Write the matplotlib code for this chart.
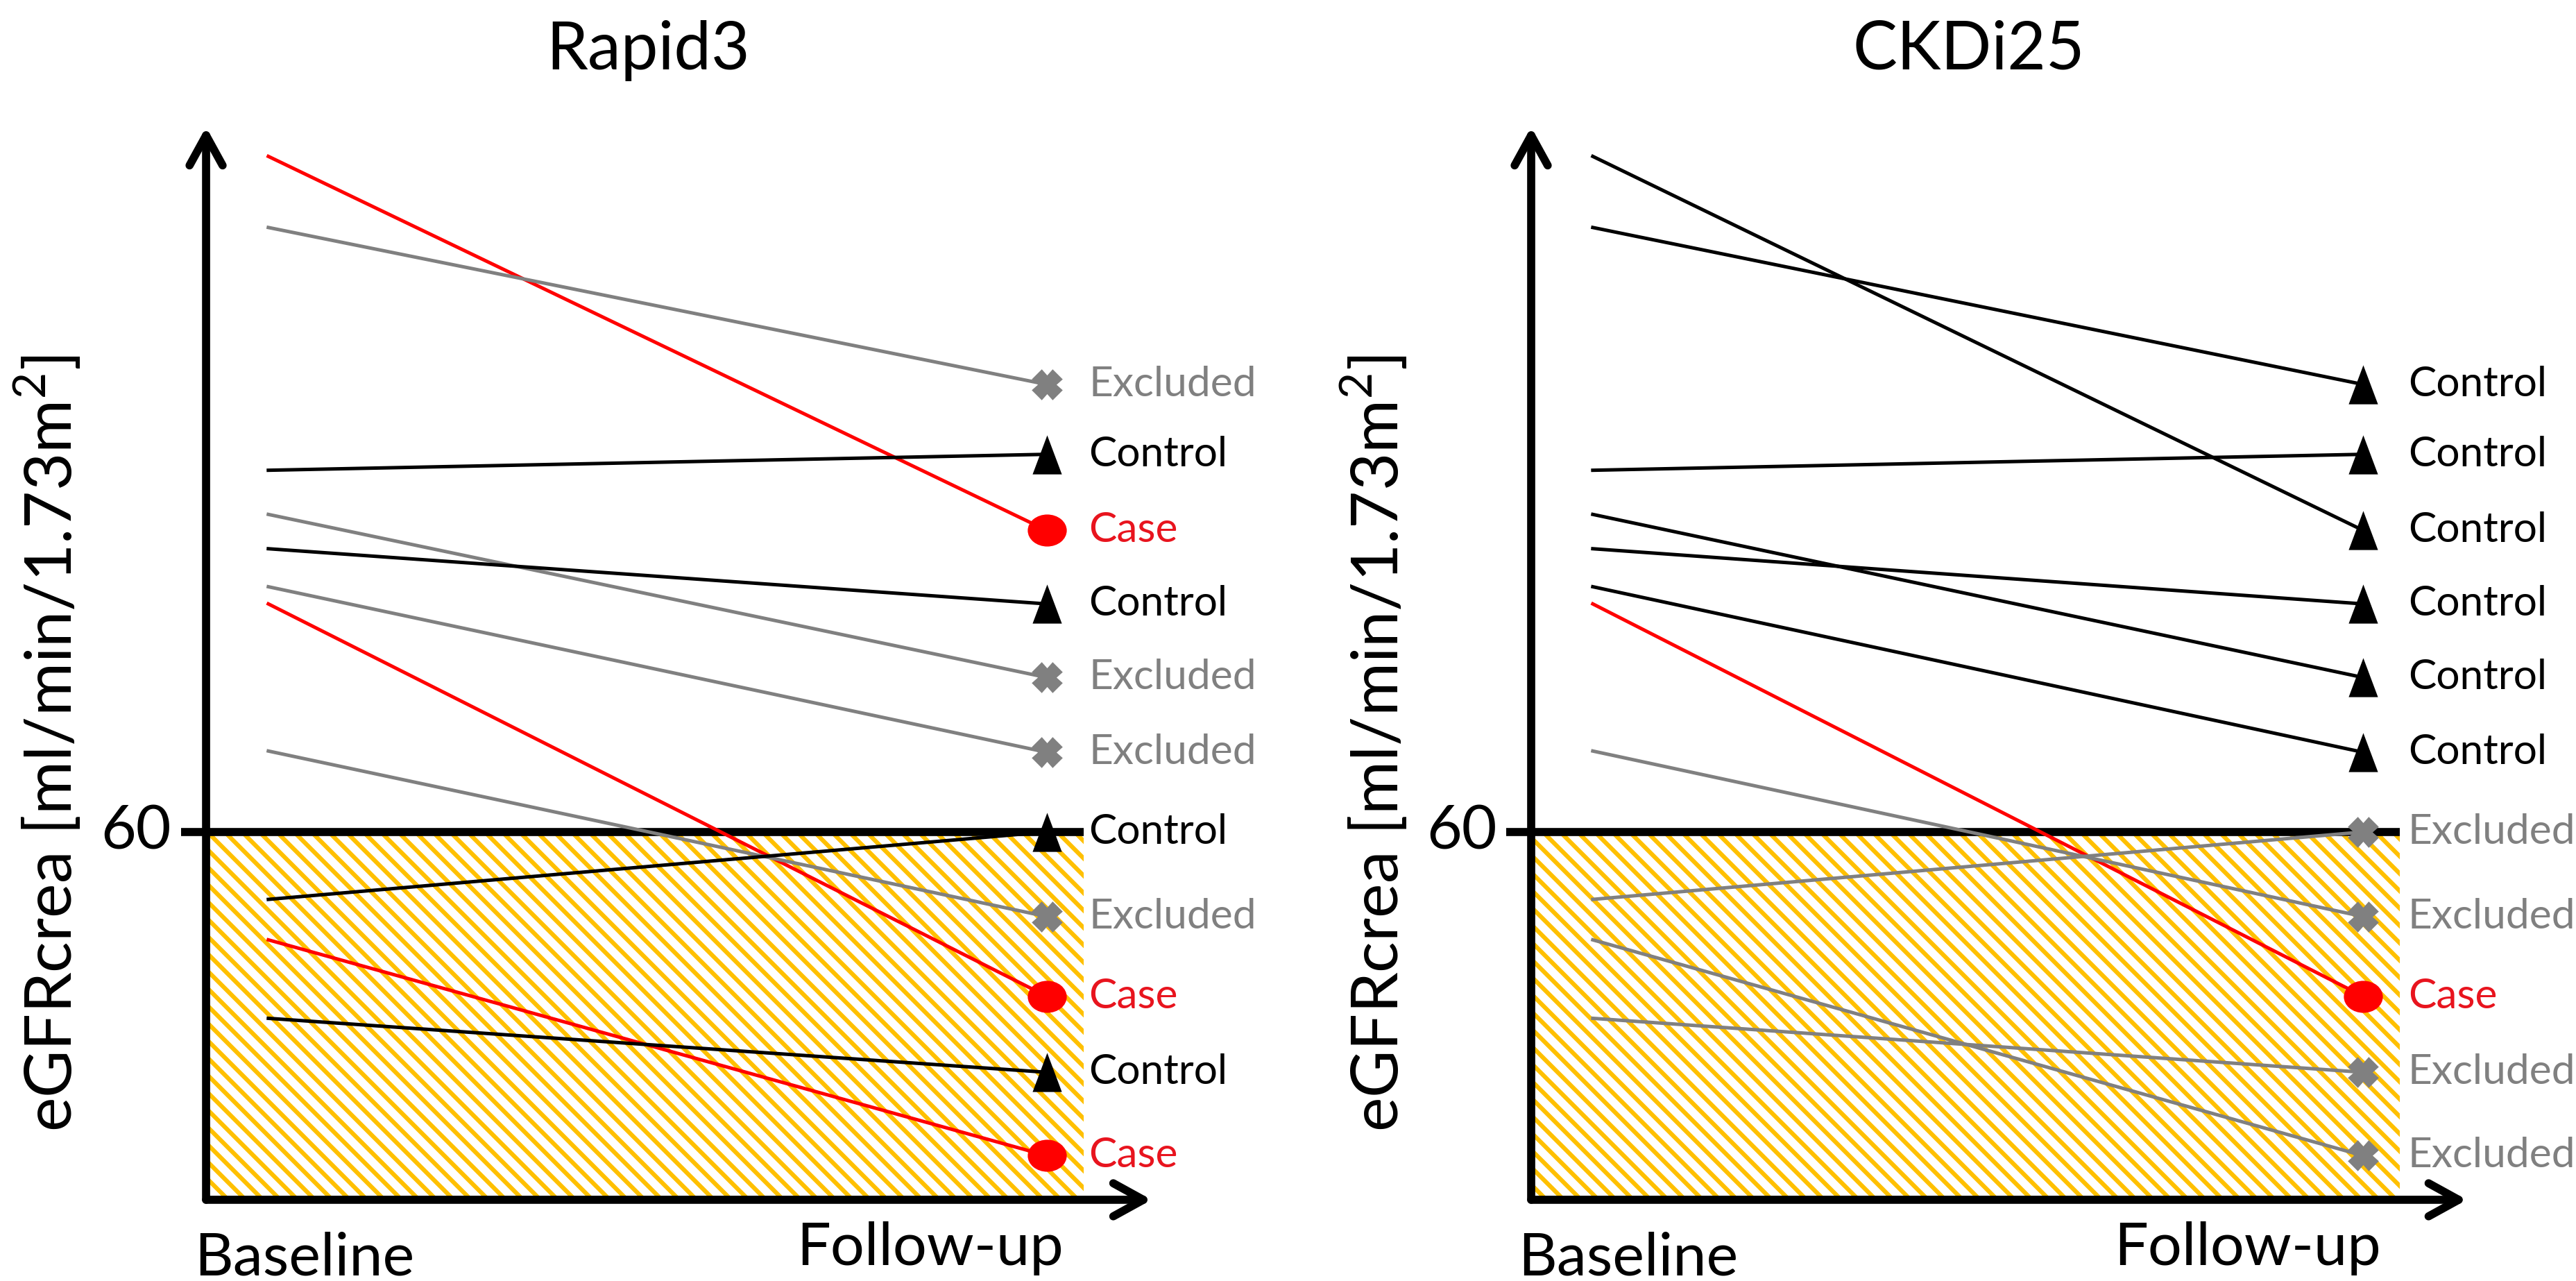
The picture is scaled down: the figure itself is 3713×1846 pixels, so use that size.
import matplotlib
matplotlib.use("Agg")
import matplotlib.pyplot as plt
from matplotlib.path import Path
from matplotlib.transforms import Affine2D

plt.rcParams["font.family"] = ["Lato", "DejaVu Sans"]
plt.rcParams["mathtext.fontset"] = "custom"
plt.rcParams["mathtext.rm"] = "Lato"
plt.rcParams["hatch.linewidth"] = 3.0

# eGFR per patient (same patients in both panels)
baseline_egfr = [115.1, 109.3, 89.5, 85.9, 83.1, 80.0, 78.6, 66.6, 54.5, 51.2, 44.8]
followup_egfr = [84.6, 96.5, 90.8, 72.6, 78.6, 66.5, 46.6, 53.1, 60.0, 33.6, 40.4]

rapid3_group = ["Case", "Excluded", "Control", "Excluded", "Control", "Excluded",
                "Case", "Excluded", "Control", "Case", "Control"]
ckdi25_group = ["Control", "Control", "Control", "Control", "Control", "Control",
                "Case", "Excluded", "Excluded", "Excluded", "Excluded"]

panel_titles = ["Rapid3", "CKDi25"]
panel_groups = [rapid3_group, ckdi25_group]
time_labels = ["Baseline", "Follow-up"]
threshold = 60
y_bottom = 30
y_top = 117.5

# marker shapes
tri_path = Path([(0, 1), (-0.75, -1), (0.75, -1), (0, 1)],
                [Path.MOVETO, Path.LINETO, Path.LINETO, Path.CLOSEPOLY])
oval_path = Path.unit_circle().transformed(Affine2D().scale(1, 0.82))

gold = "#FFC000"
gray = "#808080"
red = "#FF0000"

style = {
    "Case": dict(line=red, text="#E8141E", marker=oval_path, ms=27, mew=0),
    "Control": dict(line="black", text="black", marker=tri_path, ms=27, mew=0),
    "Excluded": dict(line=gray, text=gray, marker="X", ms=16, mew=3.5),
}

fig = plt.figure(figsize=(3713 / 150, 1846 / 150), dpi=150)

ax_left = [0.0800, 0.5944]
ax_width = [0.3671, 0.3633]
label_pad = [29, 31]
x_lo, x_hatch, x_hi = -0.08, 1.048, 1.135

for i in range(2):
    ax = fig.add_axes([ax_left[i], 0.0634, ax_width[i], 0.8375])
    ax.set_xlim(x_lo, x_hi)
    ax.set_ylim(y_bottom, y_top)
    ax.axis("off")

    # below-threshold zone
    ax.fill_between([x_lo, x_hatch], y_bottom, threshold, facecolor="white",
                    edgecolor=gold, hatch="\\\\", linewidth=0, zorder=1)
    ax.plot([x_lo - 0.032, x_hatch], [threshold, threshold], color="black",
            lw=5.6, solid_capstyle="butt", clip_on=False, zorder=2)

    for b, f, g in zip(baseline_egfr, followup_egfr, panel_groups[i]):
        s = style[g]
        ax.plot([0, 1], [b, f], color=s["line"], lw=2.4, zorder=3)
        ax.plot([1], [f], linestyle="none", marker=s["marker"], ms=s["ms"],
                color=s["line"], mec=s["line"], mew=s["mew"], zorder=5,
                clip_on=False)
        ax.annotate(g, (1, f), xytext=(label_pad[i], 0),
                    textcoords="offset points", fontsize=29, color=s["text"],
                    ha="left", va="center", annotation_clip=False)

    # axes arrows
    arrow = dict(arrowstyle="->, head_length=0.4, head_width=0.22", lw=5.6,
                 color="black", shrinkA=0, shrinkB=0, mutation_scale=52)
    ax.annotate("", xy=(0, 1), xytext=(0, 0), xycoords="axes fraction",
                arrowprops=arrow, annotation_clip=False)
    ax.annotate("", xy=(1, 0), xytext=(0, 0), xycoords="axes fraction",
                arrowprops=arrow, annotation_clip=False)

    ax.text(-0.17, threshold - 1.4, "60", fontsize=42, ha="center",
            va="baseline")
    ax.text(-0.168, 0.4256, r"eGFRcrea [ml/min/1.73m$^{\mathrm{2}}$]",
            transform=ax.transAxes, rotation=90, fontsize=45,
            ha="center", va="center")

    tr = ax.get_xaxis_transform()
    ax.text(0.488, 1.0537, panel_titles[i], transform=tr, fontsize=46,
            ha="center", va="baseline")
    ax.text(0.046, -0.0699, time_labels[0], transform=tr, fontsize=41.5,
            ha="center", va="baseline")
    ax.text(0.85, -0.0608, time_labels[1], transform=tr, fontsize=41.5,
            ha="center", va="baseline")

plt.savefig("out.png", dpi=150)
